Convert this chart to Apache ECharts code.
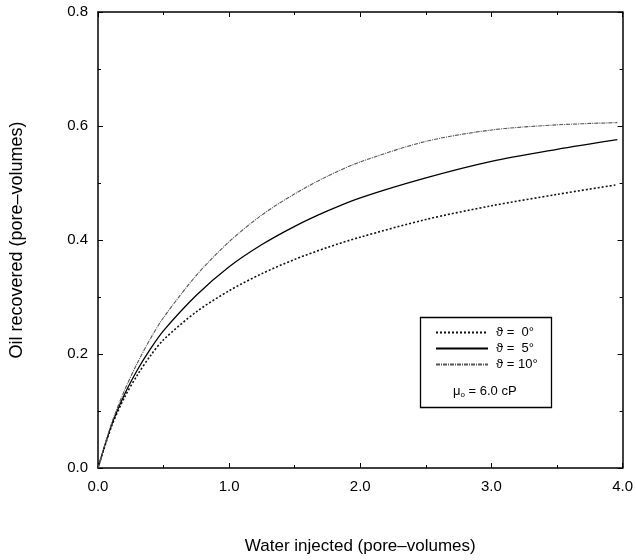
<!DOCTYPE html>
<html>
<head>
<meta charset="utf-8">
<script src="https://cdn.jsdelivr.net/npm/echarts@6/dist/echarts.min.js"></script>
<style>
html,body{margin:0;padding:0;background:#fff;}
#chart{width:636px;height:560px;}
</style>
</head>
<body>
<div id="chart"></div>
<script>
// Data
var xValues = [0, 0.1, 0.2, 0.3, 0.4, 0.5, 0.75, 1.0, 1.25, 1.5, 1.75, 2.0, 2.5, 3.0, 3.5, 3.96];
var theta0  = [0, 0.071, 0.123, 0.163, 0.197, 0.225, 0.274, 0.311, 0.341, 0.366, 0.387, 0.405, 0.436, 0.460, 0.480, 0.497];
var theta5  = [0, 0.073, 0.128, 0.172, 0.209, 0.241, 0.303, 0.353, 0.392, 0.424, 0.451, 0.474, 0.509, 0.538, 0.559, 0.576];
var theta10 = [0, 0.076, 0.135, 0.184, 0.227, 0.264, 0.338, 0.397, 0.444, 0.481, 0.512, 0.537, 0.573, 0.593, 0.602, 0.606];
var seriesNames = ['\u03D1 =  0\u00B0', '\u03D1 =  5\u00B0', '\u03D1 = 10\u00B0'];
var xTitle = 'Water injected (pore\u2013volumes)';
var yTitle = 'Oil recovered (pore\u2013volumes)';
var noteText = '\u03BC{s|o} = 6.0 cP';

function pairs(ys){ return xValues.map(function(x,i){ return [x, ys[i]]; }); }

var FONT = 'Liberation Sans, Arial, sans-serif';
var chart = echarts.init(document.getElementById('chart'), null, {renderer:'canvas'});
function axisCommon(){
  return {
    axisLine:{show:true, onZero:false, lineStyle:{color:'#000', width:1.5}},
    splitLine:{show:false},
    axisTick:{show:true, inside:true, length:5, lineStyle:{color:'#000', width:1}},
    minorTick:{show:true, splitNumber:2, length:3, lineStyle:{color:'#000', width:1}}
  };
}
var option = {
  backgroundColor:'#fff',
  animation:false,
  grid:{left:97, right:9, top:12, bottom:83},
  xAxis:[
    Object.assign({type:'value', min:0, max:4, interval:1, position:'bottom',
      name:xTitle, nameLocation:'middle', nameGap:70,
      nameTextStyle:{fontFamily:FONT, fontSize:17, color:'#000'},
      axisLabel:{formatter:function(v){return v.toFixed(1);}, margin:11, fontFamily:FONT, fontSize:15, color:'#000'}
    }, axisCommon()),
    Object.assign({type:'value', min:0, max:4, interval:1, position:'top',
      axisLabel:{show:false}}, axisCommon())
  ],
  yAxis:[
    Object.assign({type:'value', min:0, max:0.8, interval:0.2, position:'left',
      name:yTitle, nameLocation:'middle', nameGap:72,
      nameTextStyle:{fontFamily:FONT, fontSize:18, color:'#000'},
      axisLabel:{formatter:function(v){return v.toFixed(1);}, margin:10, fontFamily:FONT, fontSize:15, color:'#000'}
    }, axisCommon()),
    Object.assign({type:'value', min:0, max:0.8, interval:0.2, position:'right',
      axisLabel:{show:false}}, axisCommon())
  ],
  legend:{
    orient:'vertical', left:430, top:321, itemWidth:52, itemHeight:12, itemGap:3,
    data:seriesNames,
    itemStyle:{opacity:0},
    textStyle:{fontFamily:FONT, fontSize:13, color:'#000', padding:[0,0,0,3]},
    selectedMode:false
  },
  series:[
    {name:seriesNames[0], type:'line', data:pairs(theta0), smooth:0.3, showSymbol:false, symbol:'none',
     itemStyle:{color:'#111'}, lineStyle:{color:'#111', width:1.6, type:[2,2]}},
    {name:seriesNames[1], type:'line', data:pairs(theta5), smooth:0.3, showSymbol:false, symbol:'none',
     itemStyle:{color:'#000'}, lineStyle:{color:'#000', width:1.3, type:'solid'}},
    {name:seriesNames[2], type:'line', data:pairs(theta10), smooth:0.3, showSymbol:false, symbol:'none',
     itemStyle:{color:'#555'}, lineStyle:{color:'#555', width:1.1, type:[4,1,1,1]}}
  ],
  graphic:[
    {type:'rect', left:418, top:315, shape:{width:131, height:90}, style:{fill:'none', stroke:'#000', lineWidth:1.3}, z:100},
    {type:'text', left:453, top:385, z:100, style:{text:noteText, fontFamily:FONT, fontSize:13, fill:'#000',
      rich:{s:{fontSize:8, fontFamily:FONT, padding:[7,0,0,0]}}}}
  ]
};
chart.setOption(option);
</script>
</body>
</html>
